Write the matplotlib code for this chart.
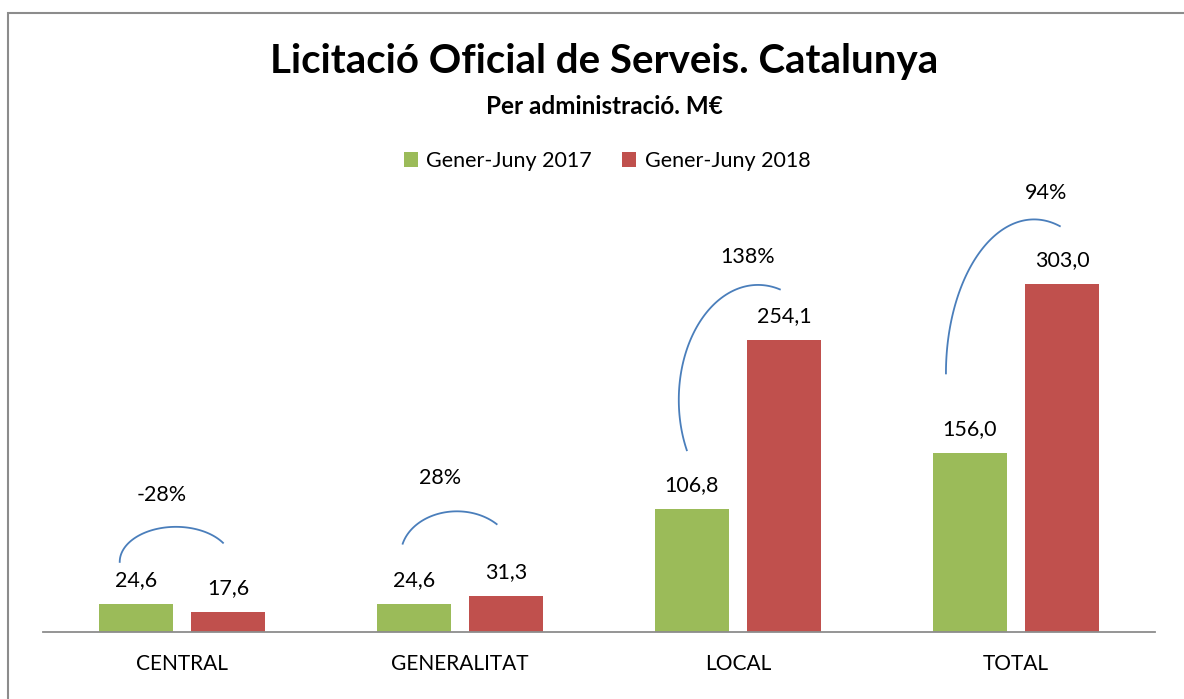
import matplotlib
matplotlib.use("Agg")
import matplotlib.pyplot as plt
from matplotlib.patches import Rectangle
import numpy as np

plt.rcParams['font.family'] = ['Lato', 'DejaVu Sans']

# dades
categories = ['CENTRAL', 'GENERALITAT', 'LOCAL', 'TOTAL']
v2017 = [24.6, 24.6, 106.8, 156.0]
v2018 = [17.6, 31.3, 254.1, 303.0]
variacio = ['-28%', '28%', '138%', '94%']
series = ['Gener-Juny 2017', 'Gener-Juny 2018']

green = '#9BBB59'
red = '#C0504D'
blue = '#4A7EBB'

W, H = 1184, 699
fig = plt.figure(figsize=(W / 100, H / 100), dpi=100)
ax = fig.add_axes([43 / W, 1 - 632 / H, (1155 - 43) / W, (632 - 170) / H])

x = np.arange(len(categories))
bw = 0.266
off = 0.167
b1 = ax.bar(x - off, v2017, bw, color=green, label=series[0])
b2 = ax.bar(x + off, v2018, bw, color=red, label=series[1])

for bars in (b1, b2):
    for r in bars:
        ax.annotate(f'{r.get_height():.1f}'.replace('.', ','),
                    (r.get_x() + r.get_width() / 2, r.get_height()),
                    xytext=(0, 10), textcoords='offset points',
                    ha='center', va='bottom', fontsize=15.5, color='black')

# arcs el·líptics (centre relatiu a la categoria, semieixos, angles paramètrics)
arcs = [(-0.022, 61, 0.202, 30.5, 33, 180),
        (-0.011, 67, 0.202, 38, 45, 165),
        (0.072, 202, 0.285, 100, 74, 206),
        (0.065, 225, 0.317, 134, 73, 180)]
pct_pos = [(-0.072, 119), (-0.072, 134), (0.036, 326), (0.108, 382)]
for i, (cx, cy, a, b, t1, t2) in enumerate(arcs):
    t = np.radians(np.linspace(t1, t2, 100))
    ax.plot(i + cx + a * np.cos(t), cy + b * np.sin(t), color=blue, lw=1.3)
    px, py = pct_pos[i]
    ax.text(i + px, py, variacio[i], ha='center', va='center', fontsize=15.5)

ax.set_xlim(-0.5, 3.5)
ax.set_ylim(0, 402)
ax.set_xticks(x)
ax.set_xticklabels(categories, fontsize=15)
ax.tick_params(axis='x', length=0, pad=16)
ax.set_yticks([])
for s in ['top', 'right', 'left']:
    ax.spines[s].set_visible(False)
ax.spines['bottom'].set_color('#8C8C8C')
ax.spines['bottom'].set_linewidth(1.3)

fig.text(604 / W, 1 - 62 / H, 'Licitació Oficial de Serveis. Catalunya',
         ha='center', va='center', fontsize=29, fontweight='bold')
fig.text(604 / W, 1 - 107 / H, 'Per administració. M€',
         ha='center', va='center', fontsize=17.5, fontweight='bold')

fig.legend(handles=[b1, b2], labels=series, loc='center',
           bbox_to_anchor=(607 / W, 1 - 161 / H), ncol=2, frameon=False,
           fontsize=15.5, handlelength=0.65, handleheight=0.65,
           handletextpad=0.4, columnspacing=1.4)

# marc
fig.add_artist(Rectangle((8 / W, -0.1), 2, 1.1 - 13 / H,
                         transform=fig.transFigure, fill=False,
                         edgecolor='#8C8C8C', lw=1.5))

fig.savefig('out.png', dpi=100, facecolor='white')
